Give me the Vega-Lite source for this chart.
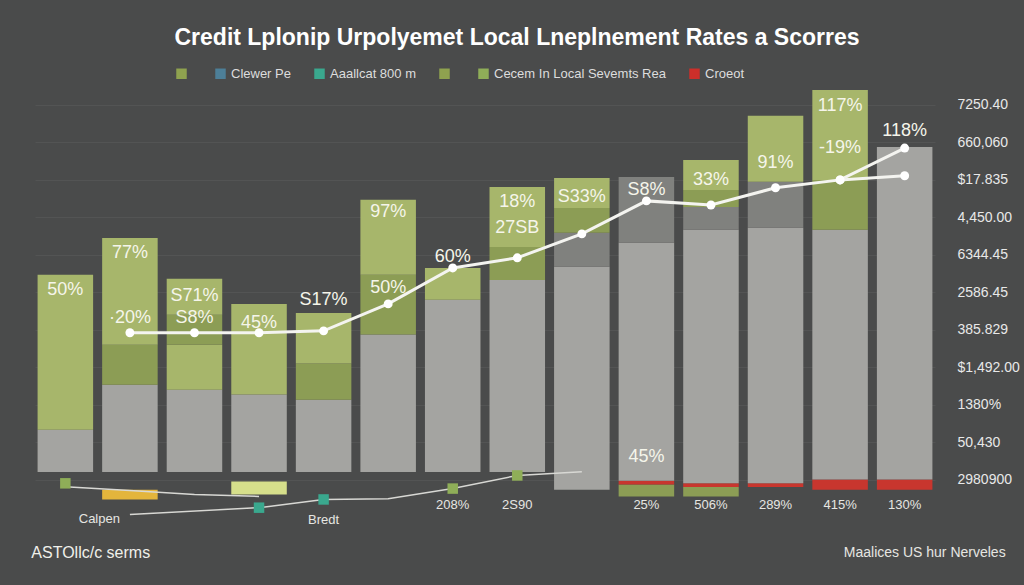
{
  "$schema": "https://vega.github.io/schema/vega-lite/v6.json",
  "width": 900,
  "height": 472,
  "autosize": {"type": "none"},
  "padding": {"left": 35, "top": 90, "right": 89, "bottom": 23},
  "background": "#4a4b4b",
  "title": {
    "text": "Credit Lplonip Urpolyemet Local Lneplnement Rates a Scorres",
    "fontSize": 23,
    "font": "Liberation Sans",
    "fontWeight": "bold",
    "color": "#ffffff",
    "anchor": "middle",
    "dx": 32,
    "offset": 17
  },
  "config": {"view": {"stroke": null}},
  "datasets": {
    "bars": [
      {"col": 1, "seg": "gray", "lo": 0.6, "hi": 1.73},
      {"col": 1, "seg": "green", "lo": 1.73, "hi": 5.87},
      {"col": 2, "seg": "yellow", "lo": -0.13, "hi": 0.13},
      {"col": 2, "seg": "gray", "lo": 0.6, "hi": 2.93},
      {"col": 2, "seg": "olive", "lo": 2.93, "hi": 4.0},
      {"col": 2, "seg": "green", "lo": 4.0, "hi": 6.85},
      {"col": 3, "seg": "gray", "lo": 0.6, "hi": 2.8},
      {"col": 3, "seg": "green", "lo": 2.8, "hi": 4.0},
      {"col": 3, "seg": "olive", "lo": 4.0, "hi": 4.8},
      {"col": 3, "seg": "green", "lo": 4.8, "hi": 5.76},
      {"col": 4, "seg": "lime", "lo": 0.0, "hi": 0.35},
      {"col": 4, "seg": "gray", "lo": 0.6, "hi": 2.67},
      {"col": 4, "seg": "green", "lo": 2.67, "hi": 5.09},
      {"col": 5, "seg": "gray", "lo": 0.6, "hi": 2.53},
      {"col": 5, "seg": "olive", "lo": 2.53, "hi": 3.5},
      {"col": 5, "seg": "green", "lo": 3.5, "hi": 4.85},
      {"col": 6, "seg": "gray", "lo": 0.6, "hi": 4.27},
      {"col": 6, "seg": "olive", "lo": 4.27, "hi": 5.87},
      {"col": 6, "seg": "green", "lo": 5.87, "hi": 7.87},
      {"col": 7, "seg": "gray", "lo": 0.6, "hi": 5.2},
      {"col": 7, "seg": "green", "lo": 5.2, "hi": 6.05},
      {"col": 8, "seg": "gray", "lo": 0.6, "hi": 5.73},
      {"col": 8, "seg": "olive", "lo": 5.73, "hi": 6.61},
      {"col": 8, "seg": "green", "lo": 6.61, "hi": 8.21},
      {"col": 9, "seg": "gray", "lo": 0.13, "hi": 6.08},
      {"col": 9, "seg": "dgray", "lo": 6.08, "hi": 6.99},
      {"col": 9, "seg": "olive", "lo": 6.99, "hi": 7.65},
      {"col": 9, "seg": "green", "lo": 7.65, "hi": 8.45},
      {"col": 10, "seg": "olive", "lo": -0.05, "hi": 0.27},
      {"col": 10, "seg": "red", "lo": 0.27, "hi": 0.37},
      {"col": 10, "seg": "gray", "lo": 0.37, "hi": 6.72},
      {"col": 10, "seg": "dgray", "lo": 6.72, "hi": 8.48},
      {"col": 11, "seg": "olive", "lo": -0.05, "hi": 0.2},
      {"col": 11, "seg": "red", "lo": 0.2, "hi": 0.3},
      {"col": 11, "seg": "gray", "lo": 0.3, "hi": 7.07},
      {"col": 11, "seg": "dgray", "lo": 7.07, "hi": 7.68},
      {"col": 11, "seg": "olive", "lo": 7.68, "hi": 8.13},
      {"col": 11, "seg": "green", "lo": 8.13, "hi": 8.93},
      {"col": 12, "seg": "red", "lo": 0.2, "hi": 0.3},
      {"col": 12, "seg": "gray", "lo": 0.3, "hi": 7.12},
      {"col": 12, "seg": "dgray", "lo": 7.12, "hi": 8.35},
      {"col": 12, "seg": "green", "lo": 8.35, "hi": 10.11},
      {"col": 13, "seg": "red", "lo": 0.13, "hi": 0.4},
      {"col": 13, "seg": "gray", "lo": 0.4, "hi": 7.07},
      {"col": 13, "seg": "olive", "lo": 7.07, "hi": 8.4},
      {"col": 13, "seg": "green", "lo": 8.4, "hi": 10.8},
      {"col": 14, "seg": "red", "lo": 0.13, "hi": 0.4},
      {"col": 14, "seg": "gray", "lo": 0.4, "hi": 9.28}
    ],
    "lineA": [
      {"col": 2, "v": 4.32}, {"col": 3, "v": 4.32}, {"col": 4, "v": 4.32},
      {"col": 5, "v": 4.37}, {"col": 6, "v": 5.09}, {"col": 7, "v": 6.05},
      {"col": 8, "v": 6.32}, {"col": 9, "v": 6.96}, {"col": 10, "v": 7.84},
      {"col": 11, "v": 7.73}, {"col": 12, "v": 8.19}, {"col": 13, "v": 8.4},
      {"col": 14, "v": 9.25}
    ],
    "lineA2": [
      {"col": 13, "v": 8.4}, {"col": 14, "v": 8.51}
    ],
    "lineB": [
      {"col": 2, "v": -0.53}, {"col": 4, "v": -0.35}, {"col": 5, "v": -0.13},
      {"col": 6, "v": -0.11}, {"col": 7, "v": 0.16}, {"col": 8, "v": 0.51},
      {"col": 9, "v": 0.61}
    ],
    "lineC": [
      {"col": 1, "v": 0.21}, {"col": 2, "v": 0.11}, {"col": 3, "v": 0.0},
      {"col": 4, "v": -0.05}
    ],
    "markers": [
      {"col": 1, "v": 0.3, "s": "Cecem In Local Sevemts Rea"},
      {"col": 4, "v": -0.35, "s": "Aaallcat 800 m"},
      {"col": 5, "v": -0.13, "s": "Aaallcat 800 m"},
      {"col": 7, "v": 0.16, "s": "Cecem In Local Sevemts Rea"},
      {"col": 8, "v": 0.51, "s": "Cecem In Local Sevemts Rea"}
    ],
    "labels": [
      {"col": 1, "t": "50%", "v": 5.47},
      {"col": 2, "t": "77%", "v": 6.45},
      {"col": 2, "t": "·20%", "v": 4.72},
      {"col": 3, "t": "S71%", "v": 5.31},
      {"col": 3, "t": "S8%", "v": 4.72},
      {"col": 4, "t": "45%", "v": 4.59},
      {"col": 5, "t": "S17%", "v": 5.2},
      {"col": 6, "t": "97%", "v": 7.55},
      {"col": 6, "t": "50%", "v": 5.52},
      {"col": 7, "t": "60%", "v": 6.35},
      {"col": 8, "t": "18%", "v": 7.81},
      {"col": 8, "t": "27SB", "v": 7.12},
      {"col": 9, "t": "S33%", "v": 7.95},
      {"col": 10, "t": "S8%", "v": 8.13},
      {"col": 11, "t": "33%", "v": 8.4},
      {"col": 12, "t": "91%", "v": 8.85},
      {"col": 13, "t": "117%", "v": 10.37},
      {"col": 13, "t": "-19%", "v": 9.25},
      {"col": 14, "t": "118%", "v": 9.71},
      {"col": 10, "t": "45%", "v": 0.99}
    ],
    "bottom": [
      {"col": 7, "t": "208%", "v": -0.27},
      {"col": 8, "t": "2S90", "v": -0.27},
      {"col": 10, "t": "25%", "v": -0.27},
      {"col": 11, "t": "506%", "v": -0.27},
      {"col": 12, "t": "289%", "v": -0.27},
      {"col": 13, "t": "415%", "v": -0.27},
      {"col": 14, "t": "130%", "v": -0.27},
      {"col": 5, "t": "Bredt", "v": -0.67}
    ]
  },
  "layer": [
    {
      "data": {"name": "bars"},
      "mark": {"type": "bar"},
      "encoding": {
        "x": {"field": "col", "type": "ordinal", "scale": {"domain": [1,2,3,4,5,6,7,8,9,10,11,12,13,14], "paddingInner": 0.14, "paddingOuter": 0.04}, "axis": null},
        "y": {
          "field": "lo", "type": "quantitative",
          "scale": {"domain": [-1.8, 10.8], "nice": false, "zero": false},
          "axis": {
            "orient": "right", "title": null,
            "values": [0.4, 1.4, 2.4, 3.4, 4.4, 5.4, 6.4, 7.4, 8.4, 9.4, 10.4],
            "labelExpr": "['2980900','50,430','1380%','$1,492.00','385.829','2586.45','6344.45','4,450.00','$17.835','660,060','7250.40'][round(datum.value - 0.4)]",
            "domain": false, "ticks": false, "grid": true, "gridColor": "#535454", "gridWidth": 1,
            "labelColor": "#e8e8e8", "labelFontSize": 14, "labelFont": "Liberation Sans",
            "labelPadding": 22, "labelAlign": "left"
          }
        },
        "y2": {"field": "hi"},
        "color": {
          "field": "seg", "type": "nominal",
          "scale": {"domain": ["green", "olive", "gray", "dgray", "red", "yellow", "lime"],
                    "range": ["#a7b66b", "#8c9d55", "#a4a4a1", "#80817e", "#c8362e", "#e3b53c", "#d6df8b"]},
          "legend": null
        }
      }
    },
    {
      "mark": {"type": "rule", "color": "#d2d2ce", "strokeWidth": 1.5, "opacity": 0.8},
      "encoding": {"y": {"datum": 0.61}}
    },
    {
      "data": {"name": "lineB"},
      "mark": {"type": "line", "color": "#d8d8d4", "strokeWidth": 1.5},
      "encoding": {
        "x": {"field": "col", "type": "ordinal"},
        "y": {"field": "v", "type": "quantitative", "title": null}
      }
    },
    {
      "data": {"name": "lineC"},
      "mark": {"type": "line", "color": "#d8d8d4", "strokeWidth": 1.5},
      "encoding": {
        "x": {"field": "col", "type": "ordinal"},
        "y": {"field": "v", "type": "quantitative", "title": null}
      }
    },
    {
      "data": {"name": "markers"},
      "mark": {"type": "point", "shape": "square", "filled": true, "size": 110, "opacity": 1},
      "encoding": {
        "x": {"field": "col", "type": "ordinal"},
        "y": {"field": "v", "type": "quantitative", "title": null},
        "color": {
          "field": "s", "type": "nominal",
          "scale": {"domain": ["G1", "Clewer Pe", "Aaallcat 800 m", "G2", "Cecem In Local Sevemts Rea", "Croeot"],
                    "range": ["#8fa24f", "#4d7f98", "#3aa88e", "#8fa24f", "#8fae58", "#cc2f2a"]},
          "legend": {
            "orient": "none", "legendX": 140, "legendY": -23, "direction": "horizontal",
            "title": null, "labelColor": "#dddddd", "labelFontSize": 13,
            "labelFont": "Liberation Sans", "labelLimit": 300,
            "symbolType": "square", "symbolSize": 110, "symbolStrokeWidth": 0,
            "columnPadding": 22,
            "labelExpr": "datum.label == 'G1' || datum.label == 'G2' ? '' : datum.label"
          }
        }
      }
    },
    {
      "data": {"name": "lineA"},
      "mark": {"type": "line", "color": "#f4f4f0", "strokeWidth": 3, "point": {"filled": true, "size": 80, "color": "#ffffff"}},
      "encoding": {
        "x": {"field": "col", "type": "ordinal"},
        "y": {"field": "v", "type": "quantitative", "title": null}
      }
    },
    {
      "data": {"name": "lineA2"},
      "mark": {"type": "line", "color": "#f4f4f0", "strokeWidth": 3, "point": {"filled": true, "size": 80, "color": "#ffffff"}},
      "encoding": {
        "x": {"field": "col", "type": "ordinal"},
        "y": {"field": "v", "type": "quantitative", "title": null}
      }
    },
    {
      "data": {"name": "labels"},
      "mark": {"type": "text", "font": "Liberation Sans", "fontSize": 18, "color": "#f5f5ea"},
      "encoding": {
        "x": {"field": "col", "type": "ordinal"},
        "y": {"field": "v", "type": "quantitative", "title": null},
        "text": {"field": "t"}
      }
    },
    {
      "data": {"name": "bottom"},
      "mark": {"type": "text", "font": "Liberation Sans", "fontSize": 13, "color": "#e6e6e2"},
      "encoding": {
        "x": {"field": "col", "type": "ordinal"},
        "y": {"field": "v", "type": "quantitative", "title": null},
        "text": {"field": "t"}
      }
    },
    {
      "data": {"values": [{"col": 1, "v": -0.64, "t": "Calpen"}]},
      "mark": {"type": "text", "font": "Liberation Sans", "fontSize": 13, "color": "#e6e6e2", "dx": 34},
      "encoding": {
        "x": {"field": "col", "type": "ordinal"},
        "y": {"field": "v", "type": "quantitative", "title": null},
        "text": {"field": "t"}
      }
    },
    {
      "data": {"values": [{"col": 1, "v": -1.55, "t": "ASTOllc/c serms"}]},
      "mark": {"type": "text", "font": "Liberation Sans", "fontSize": 16, "color": "#f0f0ea", "align": "left", "dx": -34},
      "encoding": {
        "x": {"field": "col", "type": "ordinal"},
        "y": {"field": "v", "type": "quantitative", "title": null},
        "text": {"field": "t"}
      }
    },
    {
      "data": {"values": [{"col": 14, "v": -1.55, "t": "Maalices US hur Nerveles"}]},
      "mark": {"type": "text", "font": "Liberation Sans", "fontSize": 14, "color": "#e6e6e2", "align": "right", "dx": 101},
      "encoding": {
        "x": {"field": "col", "type": "ordinal"},
        "y": {"field": "v", "type": "quantitative", "title": null},
        "text": {"field": "t"}
      }
    }
  ],
  "resolve": {"scale": {"color": "independent"}}
}
